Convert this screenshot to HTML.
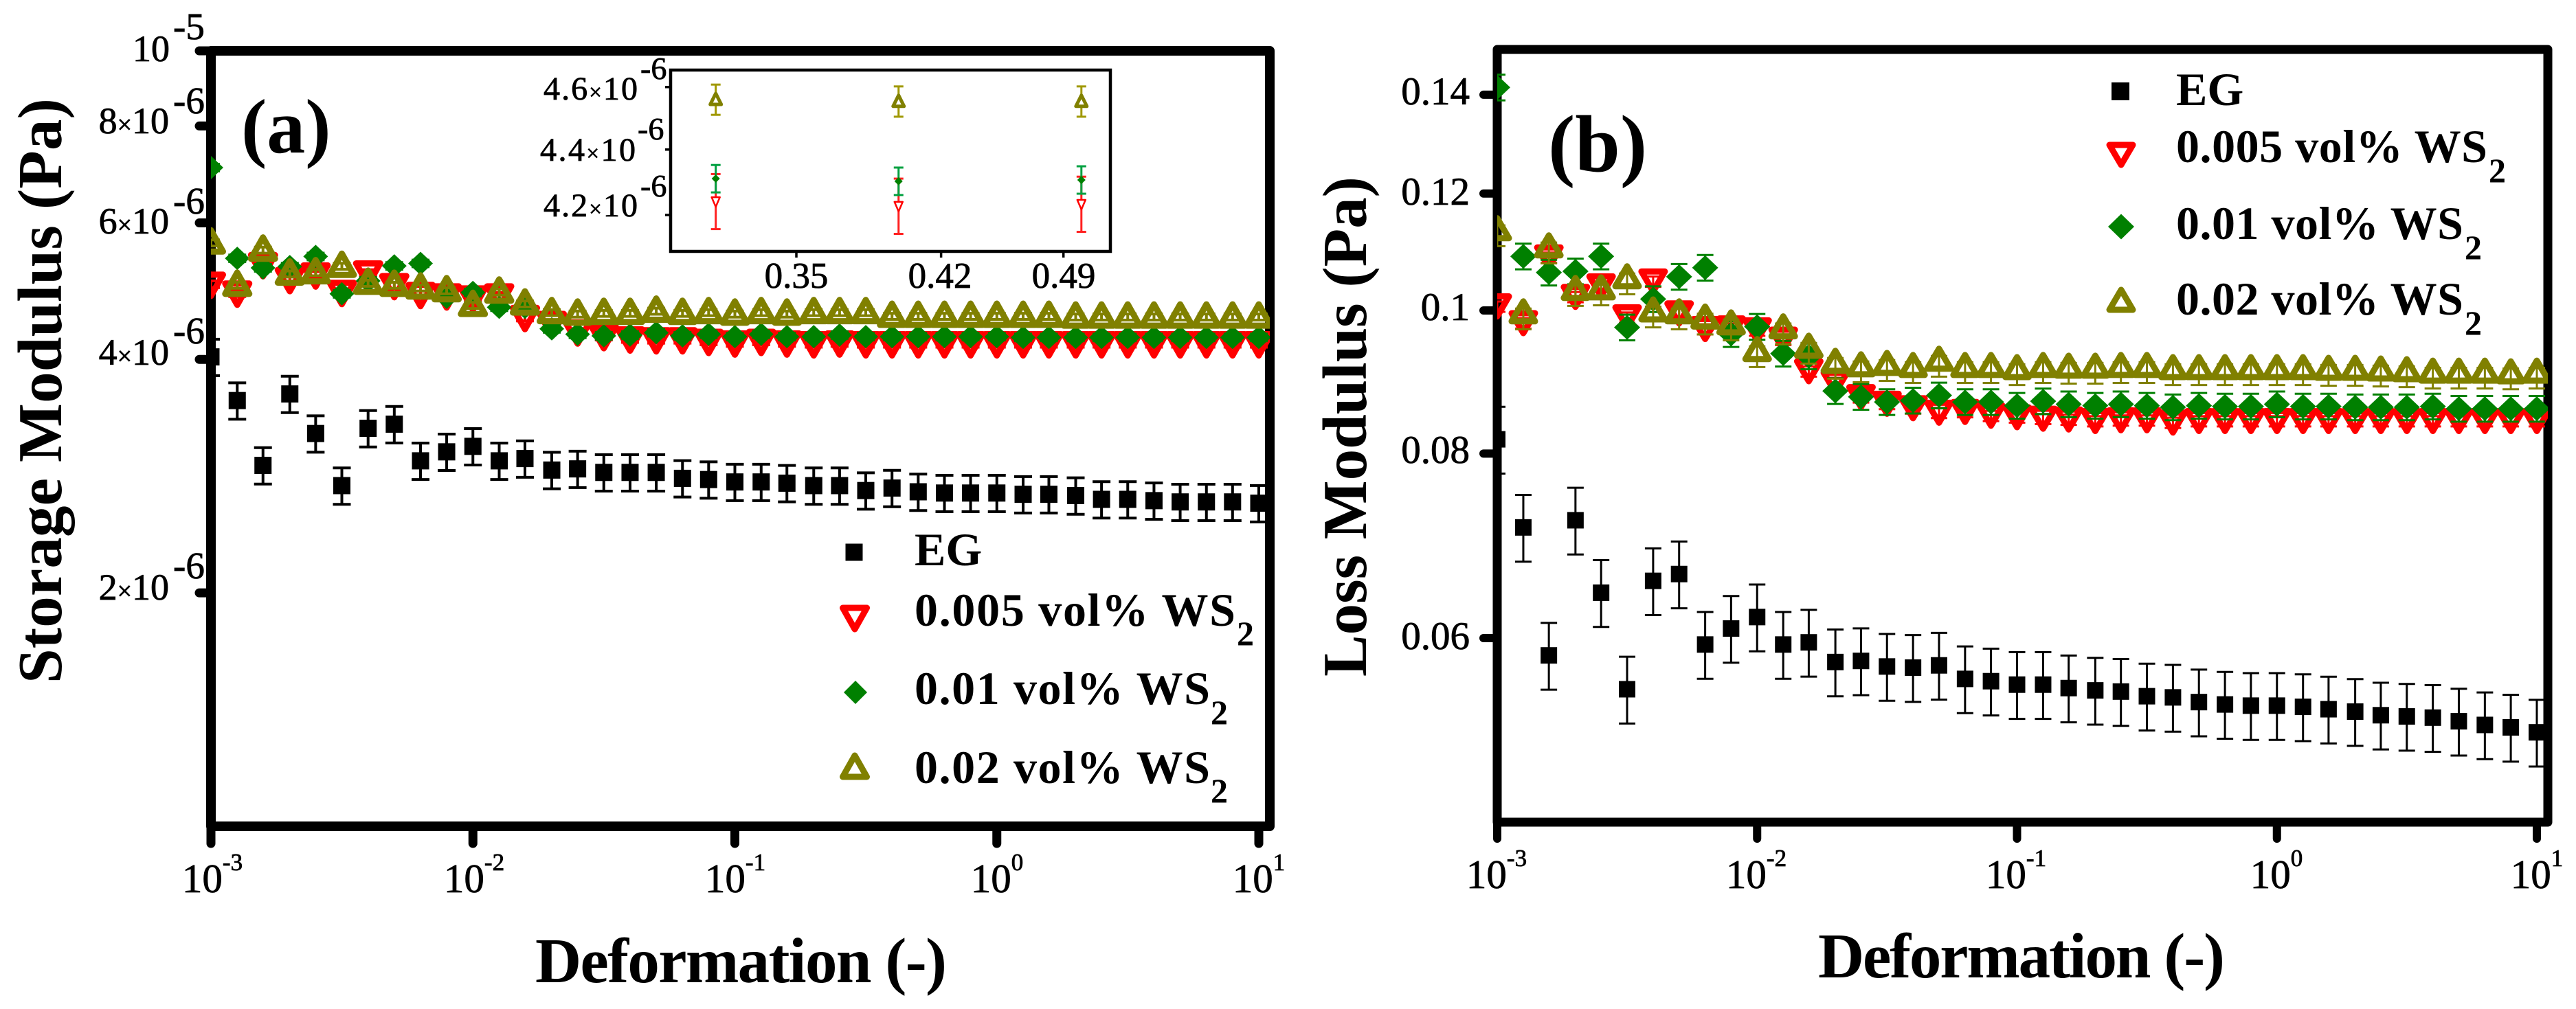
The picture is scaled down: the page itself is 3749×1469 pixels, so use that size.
<!DOCTYPE html>
<html lang="en">
<head>
<meta charset="utf-8">
<title>Storage and loss modulus versus deformation</title>
<style>
html,body{margin:0;padding:0;background:#fff;}
svg{display:block;}
text{font-family:"Liberation Serif",serif;fill:#000;}
.tick{stroke:#000;stroke-width:.8px;}
.title{font-weight:700;}
.legend{font-weight:700;font-size:68px;}
.sub{font-weight:700;font-size:50px;}
</style>
</head>
<body>
<svg id="figure" xmlns="http://www.w3.org/2000/svg" width="3749" height="1469" viewBox="0 0 3749 1469">
<defs>
<clipPath id="clip-a"><rect x="307" y="60" width="1541" height="1143"/></clipPath>
<clipPath id="clip-b"><rect x="2179" y="60" width="1529" height="1137"/></clipPath>
</defs>
<rect width="3749" height="1469" fill="#fff"/>

<g id="panel-a">
  <g id="a-axes"></g>
  <g id="a-marks" clip-path="url(#clip-a)"></g>
  <text class="title" x="351" y="222" font-size="112">(a)</text>
  <text class="title" font-size="91" transform="translate(89,995) rotate(-90)" textLength="852" lengthAdjust="spacing">Storage Modulus (Pa)</text>
  <text class="title" font-size="93" x="779" y="1430" textLength="599" lengthAdjust="spacing">Deformation (-)</text>

  <g class="tick">
    <text x="247" y="89" font-size="54" text-anchor="end">10</text>
    <text x="252" y="57" font-size="55">-5</text>
    <text x="246" y="194" font-size="54" text-anchor="end">8<tspan font-size="38">×</tspan>10</text>
    <text x="252" y="165" font-size="55">-6</text>
    <text x="246" y="340" font-size="54" text-anchor="end">6<tspan font-size="38">×</tspan>10</text>
    <text x="252" y="311" font-size="55">-6</text>
    <text x="246" y="531" font-size="54" text-anchor="end">4<tspan font-size="38">×</tspan>10</text>
    <text x="252" y="500" font-size="55">-6</text>
    <text x="246" y="873" font-size="54" text-anchor="end">2<tspan font-size="38">×</tspan>10</text>
    <text x="252" y="842" font-size="55">-6</text>
  </g>

  <g class="tick" text-anchor="middle" font-size="59">
    <text x="309" y="1299">10<tspan font-size="35" dy="-32">-3</tspan></text>
    <text x="690" y="1299">10<tspan font-size="35" dy="-32">-2</tspan></text>
    <text x="1070" y="1299">10<tspan font-size="35" dy="-32">-1</tspan></text>
    <text x="1451" y="1299">10<tspan font-size="35" dy="-32">0</tspan></text>
    <text x="1832" y="1299">10<tspan font-size="35" dy="-32">1</tspan></text>
  </g>

  <g id="inset">
    <g id="inset-axes"></g>
    <g id="inset-marks"></g>
    <g class="tick">
      <text x="791" y="145" font-size="48" textLength="137" lengthAdjust="spacing">4.6<tspan font-size="33">×</tspan>10</text>
      <text x="932" y="115" font-size="46">-6</text>
      <text x="786" y="234" font-size="48" textLength="139" lengthAdjust="spacing">4.4<tspan font-size="33">×</tspan>10</text>
      <text x="928" y="203" font-size="46">-6</text>
      <text x="791" y="315" font-size="48" textLength="137" lengthAdjust="spacing">4.2<tspan font-size="33">×</tspan>10</text>
      <text x="932" y="286" font-size="46">-6</text>
      <text x="1159" y="419" font-size="53" text-anchor="middle">0.35</text>
      <text x="1368" y="419" font-size="53" text-anchor="middle">0.42</text>
      <text x="1548" y="419" font-size="53" text-anchor="middle">0.49</text>
    </g>
  </g>

  <g id="legend-a">
    <g><text class="legend" x="1331" y="823">EG</text></g>
    <g><text class="legend" x="1331" y="911" textLength="467" lengthAdjust="spacing">0.005 vol% WS</text><text class="sub" x="1800" y="939">2</text></g>
    <g><text class="legend" x="1331" y="1025" textLength="430" lengthAdjust="spacing">0.01 vol% WS</text><text class="sub" x="1762" y="1054">2</text></g>
    <g><text class="legend" x="1331" y="1140" textLength="430" lengthAdjust="spacing">0.02 vol% WS</text><text class="sub" x="1762" y="1168">2</text></g>
  </g>
</g>

<g id="panel-b">
  <g id="b-axes"></g>
  <g id="b-marks" clip-path="url(#clip-b)"></g>
  <text class="title" x="2253" y="249" font-size="118">(b)</text>
  <text class="title" font-size="91" transform="translate(1988,985) rotate(-90)" textLength="728" lengthAdjust="spacing">Loss Modulus (Pa)</text>
  <text class="title" font-size="93" x="2646" y="1423" textLength="592" lengthAdjust="spacing">Deformation (-)</text>

  <g class="tick" text-anchor="end" font-size="57">
    <text x="2139" y="152">0.14</text>
    <text x="2139" y="298">0.12</text>
    <text x="2139" y="466">0.1</text>
    <text x="2139" y="674">0.08</text>
    <text x="2139" y="945">0.06</text>
  </g>

  <g class="tick" text-anchor="middle" font-size="59">
    <text x="2178" y="1293">10<tspan font-size="35" dy="-32">-3</tspan></text>
    <text x="2556" y="1293">10<tspan font-size="35" dy="-32">-2</tspan></text>
    <text x="2934" y="1293">10<tspan font-size="35" dy="-32">-1</tspan></text>
    <text x="3313" y="1293">10<tspan font-size="35" dy="-32">0</tspan></text>
    <text x="3692" y="1293">10<tspan font-size="35" dy="-32">1</tspan></text>
  </g>

  <g id="legend-b">
    <g><text class="legend" x="3167" y="153">EG</text></g>
    <g><text class="legend" x="3167" y="236" textLength="453" lengthAdjust="spacing">0.005 vol% WS</text><text class="sub" x="3622" y="265">2</text></g>
    <g><text class="legend" x="3167" y="348" textLength="418" lengthAdjust="spacing">0.01 vol% WS</text><text class="sub" x="3587" y="377">2</text></g>
    <g><text class="legend" x="3167" y="458" textLength="418" lengthAdjust="spacing">0.02 vol% WS</text><text class="sub" x="3587" y="487">2</text></g>
  </g>
</g>
</svg>

<script>
// Shared deformation values
var deformation = [0.001,0.00126,0.00158,0.002,0.00251,0.00316,0.00398,0.00501,0.00631,0.00794,0.01,0.0126,0.0158,0.02,0.0251,0.0316,0.0398,0.0501,0.0631,0.0794,0.1,0.126,0.158,0.2,0.251,0.316,0.398,0.501,0.631,0.794,1,1.26,1.58,2,2.51,3.16,3.98,5.01,6.31,7.94,10];

// Panel (a): storage modulus, in units of 1e-6 Pa
var storageEG = [4.03,3.54,2.92,3.61,3.21,2.75,3.26,3.30,2.96,3.04,3.09,2.96,2.98,2.88,2.89,2.86,2.86,2.86,2.81,2.80,2.78,2.78,2.77,2.75,2.75,2.71,2.73,2.70,2.69,2.69,2.69,2.68,2.68,2.67,2.64,2.64,2.63,2.62,2.62,2.62,2.61];
var storage005 = [5.00,4.87,5.30,5.07,5.14,4.88,5.17,4.98,4.85,4.83,4.80,4.83,4.53,4.45,4.34,4.28,4.25,4.24,4.24,4.22,4.20,4.22,4.20,4.19,4.20,4.19,4.19,4.19,4.19,4.19,4.19,4.19,4.19,4.19,4.19,4.19,4.19,4.19,4.19,4.19,4.19];
var storage01 = [7.07,5.40,5.25,5.27,5.43,4.86,5.05,5.28,5.32,4.81,4.88,4.67,4.67,4.38,4.31,4.29,4.30,4.33,4.29,4.31,4.28,4.31,4.28,4.28,4.30,4.28,4.28,4.28,4.28,4.28,4.28,4.27,4.27,4.27,4.27,4.27,4.27,4.27,4.27,4.27,4.27];
var storage02 = [5.67,5.00,5.55,5.17,5.19,5.29,5.03,5.00,4.96,4.92,4.71,4.90,4.73,4.61,4.59,4.60,4.60,4.63,4.60,4.61,4.59,4.61,4.59,4.61,4.61,4.61,4.56,4.56,4.56,4.56,4.56,4.56,4.56,4.55,4.55,4.55,4.55,4.55,4.55,4.55,4.55];
var storageRelErrUp = [0.054,0.010,0.010,0.006];
var storageRelErrDown = [0.054,0.010,0.010,0.012];
var storageYTicks = [10,8,6,4,2];

// Inset of panel (a), in units of 1e-6 Pa
var insetDeformation = [0.3162,0.3981,0.5012];
var inset005 = [4.241,4.227,4.233];
var inset01 = [4.31,4.302,4.306];
var inset02 = [4.559,4.553,4.553];
var insetAbsErrors = [0.083,0.042,0.049];
var insetXTicks = [0.35,0.42,0.49];
var insetYTicks = [4.6,4.4,4.2];

// Panel (b): loss modulus in Pa
var lossEG = [0.0818,0.0713,0.0584,0.0721,0.0644,0.0554,0.0656,0.0663,0.0594,0.0609,0.0620,0.0594,0.0596,0.0578,0.0579,0.0574,0.0573,0.0575,0.0563,0.0561,0.0558,0.0558,0.0555,0.0553,0.0552,0.0548,0.0547,0.0543,0.0541,0.0540,0.0540,0.0539,0.0537,0.0535,0.0532,0.0531,0.0530,0.0527,0.0524,0.0522,0.0518];
var loss005 = [0.1008,0.0982,0.1088,0.1023,0.1040,0.0991,0.1048,0.0997,0.0973,0.0974,0.0971,0.0957,0.0911,0.0895,0.0875,0.0866,0.0860,0.0854,0.0855,0.0850,0.0848,0.0846,0.0845,0.0843,0.0844,0.0844,0.0841,0.0843,0.0843,0.0843,0.0843,0.0843,0.0843,0.0843,0.0843,0.0843,0.0843,0.0843,0.0843,0.0843,0.0843];
var loss01 = [0.1416,0.1088,0.1061,0.1063,0.1088,0.0974,0.1018,0.1054,0.1069,0.0964,0.0975,0.0935,0.0931,0.0882,0.0874,0.0867,0.0869,0.0876,0.0867,0.0867,0.0862,0.0868,0.0864,0.0862,0.0864,0.0862,0.0860,0.0862,0.0861,0.0861,0.0864,0.0861,0.0861,0.0860,0.0860,0.0860,0.0861,0.0858,0.0858,0.0858,0.0858];
var loss02 = [0.1135,0.0997,0.1105,0.1034,0.1035,0.1053,0.1000,0.0997,0.0989,0.0980,0.0940,0.0974,0.0945,0.0923,0.0918,0.0920,0.0917,0.0926,0.0917,0.0917,0.0914,0.0917,0.0916,0.0916,0.0917,0.0917,0.0914,0.0914,0.0914,0.0914,0.0914,0.0914,0.0913,0.0913,0.0912,0.0911,0.0909,0.0909,0.0909,0.0908,0.0909];
var lossRelErrUp = [0.052,0.006,0.020,0.006];
var lossRelErrDown = [0.052,0.010,0.020,0.026];
var lossYTicks = [0.14,0.12,0.1,0.08,0.06];

var xDecadeTicks = [0.001,0.01,0.1,1,10];
var seriesKinds = ['square','down','diamond','up'];
var seriesColors = ['#000000','#ff0000','#008000','#808000'];
var seriesKeys = ['eg','vol-0.005','vol-0.01','vol-0.02'];

var SVGNS = 'http://www.w3.org/2000/svg';
function lg(v){ return Math.log(v)/Math.LN10; }

// Axis functions
function xA(v){ return 307 + 381.25*(lg(v)+3); }
function yA(v){ return 1203 - 1129*lg(v); }
function xB(v){ return 2179 + 378.25*(lg(v)+3); }
function yB(v){ return 452 - 2150*lg(v/0.1); }
function xI(v){ return 1159 + 2660*lg(v/0.35); }
function yI(v){ return 313 - 4715*lg(v/4.2); }

function make(tag, parent, attrs){
  var e = document.createElementNS(SVGNS, tag);
  for (var k in attrs) e.setAttribute(k, attrs[k]);
  parent.appendChild(e);
  return e;
}

function line(parent, x1, y1, x2, y2, stroke, width, cap){
  return make('line', parent, {x1:x1, y1:y1, x2:x2, y2:y2, stroke:stroke, 'stroke-width':width, 'stroke-linecap':cap || 'butt'});
}

// Draws one marker; sizes are style constants for each chart
function marker(parent, kind, color, x, y, s){
  var m;
  if (kind === 'square') {
    m = make('rect', parent, {x:x-s.sq/2, y:y-s.sq/2, width:s.sq, height:s.sq, fill:color});
  } else if (kind === 'diamond') {
    m = make('polygon', parent, {points:(x)+','+(y-s.dh)+' '+(x+s.dw)+','+y+' '+x+','+(y+s.dh)+' '+(x-s.dw)+','+y, fill:color});
  } else {
    var d = kind === 'up' ? 1 : -1;
    m = make('polygon', parent, {
      points: x+','+(y-d*s.t1)+' '+(x+s.tw)+','+(y+d*s.t2)+' '+(x-s.tw)+','+(y+d*s.t2),
      fill:'none', stroke:color, 'stroke-width':s.ts, 'stroke-linejoin':'round'
    });
  }
  return m;
}

function errorBar(parent, x, yTop, yBot, cap, color, width){
  var g = make('g', parent, {});
  line(g, x, yTop, x, yBot, color, width);
  line(g, x-cap/2, yTop, x+cap/2, yTop, color, width);
  line(g, x-cap/2, yBot, x+cap/2, yBot, color, width);
  return g;
}

function drawPanel(opts){
  var axes = document.getElementById(opts.axesId);
  var marks = document.getElementById(opts.marksId);
  var frame = make('rect', axes, {x:opts.left, y:opts.top, width:opts.right-opts.left, height:opts.bottom-opts.top, fill:'none', stroke:'#000', 'stroke-width':opts.frameW, 'stroke-linejoin':'round'});
  
  
  xDecadeTicks.forEach(function(v){
    var t = line(axes, opts.x(v), opts.bottom, opts.x(v), opts.tickBottom, '#000', opts.tickW, 'round');
    
    
  });
  opts.yTicks.forEach(function(v){
    var t = line(axes, opts.left, opts.y(v), opts.tickLeft, opts.y(v), '#000', opts.tickW, 'round');
    
    
  });
  opts.series.forEach(function(values, si){
    var group = make('g', marks, {});
    
    
    values.forEach(function(v, i){
      var px = opts.x(deformation[i]);
      var bar = errorBar(group, px, opts.y(v*(1+opts.errUp[si])), opts.y(v*(1-opts.errDown[si])), opts.capW, seriesColors[si], opts.errW);
      
      
      var pt = marker(group, seriesKinds[si], seriesColors[si], px, opts.y(v), opts.size);
      
      
    });
  });
  var legend = document.getElementById(opts.legendId);
  opts.legendPos.forEach(function(p, si){
    var lm = marker(legend, seriesKinds[si], seriesColors[si], p[0], p[1], opts.legendSize);
    
    
  });
}

drawPanel({
  axesId:'a-axes', marksId:'a-marks', legendId:'legend-a',
  left:307, right:1848, top:74, bottom:1203, tickBottom:1228, tickLeft:290,
  frameW:14, tickW:13, capW:26, errW:4,
  x:xA, y:yA, yTicks:storageYTicks,
  series:[storageEG, storage005, storage01, storage02], errUp:storageRelErrUp, errDown:storageRelErrDown,
  size:{sq:25, dw:18, dh:17, tw:17.5, t1:17, t2:14, ts:9},
  legendPos:[[1243,804],[1244,899],[1245,1008],[1244,1117]],
  legendSize:{sq:25, dw:17, dh:17, tw:17.5, t1:17, t2:14, ts:9}
});

drawPanel({
  axesId:'b-axes', marksId:'b-marks', legendId:'legend-b',
  left:2179, right:3708, top:72, bottom:1197, tickBottom:1221, tickLeft:2159,
  frameW:13, tickW:12, capW:24, errW:3,
  x:xB, y:yB, yTicks:lossYTicks,
  series:[lossEG, loss005, loss01, loss02], errUp:lossRelErrUp, errDown:lossRelErrDown,
  size:{sq:24, dw:19, dh:18, tw:17, t1:16, t2:13, ts:9},
  legendPos:[[3086,133],[3087,224],[3087,330],[3087,438]],
  legendSize:{sq:26, dw:19, dh:18.5, tw:17, t1:16, t2:13, ts:9}
});

// Inset
(function(){
  var axes = document.getElementById('inset-axes');
  var marks = document.getElementById('inset-marks');
  var box = make('rect', axes, {x:976, y:102, width:640, height:264, fill:'none', stroke:'#000', 'stroke-width':4.5});
  
  
  insetXTicks.forEach(function(v){
    var t = line(axes, xI(v), 366, xI(v), 375, '#000', 3.5);
    
    
  });
  insetYTicks.forEach(function(v){
    var t = line(axes, 976, yI(v), 968, yI(v), '#000', 3.5);
    
    
  });
  var insetSeries = [inset005, inset01, inset02];
  var insetKinds = ['down','diamond','up'];
  var insetColors = ['#ff0000','#008000','#808000'];
  var insetErrColors = ['#ff2020','#00a040','#a09800'];
  var insetSizes = [
    {tw:6, t1:8, t2:6, ts:2.5},
    {dw:6, dh:6},
    {tw:8, t1:9, t2:7, ts:5}
  ];
  insetSeries.forEach(function(values, si){
    var group = make('g', marks, {});
    
    
    values.forEach(function(v, i){
      var e = insetAbsErrors[si];
      var px = xI(insetDeformation[i]);
      var bar = errorBar(group, px, yI(v+e), yI(v-e), 14, insetErrColors[si], 3);
      
      
      var pt = marker(group, insetKinds[si], insetColors[si], px, yI(v), insetSizes[si]);
      if (insetKinds[si] !== 'diamond') pt.setAttribute('fill', '#fff');
      
      
    });
  });
})();
</script>
</body>
</html>
